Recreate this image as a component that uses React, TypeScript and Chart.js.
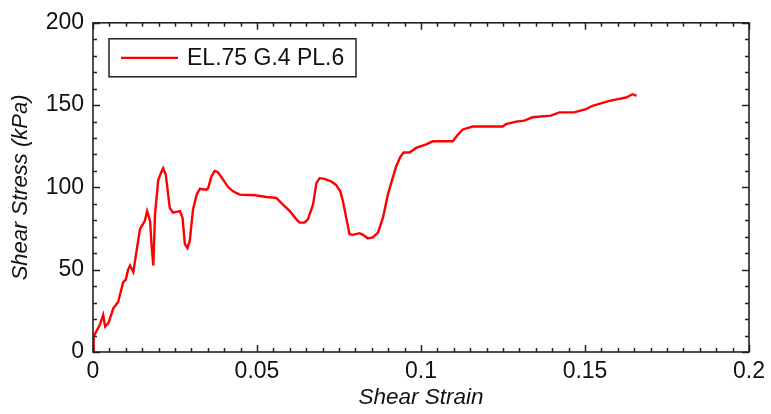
import React, { useEffect, useRef } from "react";
import { Chart, registerables } from "chart.js";

Chart.register(...registerables);

const seriesLabel = "EL.75 G.4 PL.6";
const xTitle = "Shear Strain";
const yTitle = "Shear Stress (kPa)";

const strain = [
  0, 0.0002, 0.0021, 0.0031, 0.0037, 0.0047, 0.0062, 0.0077, 0.0092, 0.01, 0.0107, 0.0113, 0.0123,
  0.0143, 0.0158, 0.0165, 0.0174, 0.0179, 0.0184, 0.0189, 0.0199, 0.0209, 0.0214, 0.0222, 0.0234,
  0.0244, 0.0265, 0.0273, 0.028, 0.0288, 0.0295, 0.0305, 0.0316, 0.0326, 0.0346, 0.0351, 0.0361,
  0.0371, 0.0381, 0.0397, 0.0412, 0.0427, 0.0447, 0.0493, 0.0529, 0.0559, 0.0579, 0.06, 0.062,
  0.063, 0.0645, 0.0655, 0.0671, 0.0681, 0.0691, 0.0706, 0.0727, 0.0742, 0.0754, 0.0762, 0.0772,
  0.0782, 0.0792, 0.0813, 0.0823, 0.0838, 0.0853, 0.0869, 0.0884, 0.0899, 0.0912, 0.0924, 0.0937,
  0.0947, 0.0965, 0.0985, 0.1016, 0.1036, 0.1097, 0.1109, 0.1127, 0.1158, 0.1249, 0.1259, 0.129,
  0.1315, 0.134, 0.1396, 0.1422, 0.1467, 0.1503, 0.1523, 0.1574, 0.1625, 0.1645, 0.1657,
];
const stress = [
  0, 9.5, 16.5, 22.5, 15.5, 17.5, 26.5, 30.5, 42.5, 44, 50, 52.5, 48.5,
  74.6, 79.6, 85.6, 79.6, 63.5, 52.5, 83.6, 104.6, 109.6, 111.6, 107.6, 87.6,
  84.6, 85.6, 81.6, 65.6, 63.2, 67.5, 86.6, 95.6, 99.2, 98.6, 99.5, 106.6,
  110, 109.2, 104.6, 100.2, 97.6, 95.6, 95.2, 94.2, 93.6, 89.6, 85.6, 80.6,
  78.6, 78.6, 80.6, 89.6, 102.6, 105.6, 105.2, 103.6, 101.2, 97.6, 91.6, 81.6,
  71.6, 71.2, 72.2, 71.2, 69, 69.6, 72.6, 81.6, 95.6, 104.6, 112.6, 118.6,
  121.2, 121.2, 124, 126.2, 128, 128, 131.2, 135.2, 137, 137, 138.4, 140,
  140.6, 142.6, 143.6, 145.6, 145.6, 147.6, 149.6, 152.6, 154.6, 156.6, 155.6,
];

const xMajorTicks = [0, 0.05, 0.1, 0.15, 0.2];
const yMajorTicks = [0, 50, 100, 150, 200];
const xMinorStep = 0.005;
const yMinorStep = 10;

const FONT = "'Liberation Sans', Arial, sans-serif";
const TEXT = "#111";

const frameTicks = {
  id: "frameTicks",
  afterDraw(chart: any) {
    const { ctx, chartArea: a, scales } = chart;
    const xs = scales.x, ys = scales.y;
    ctx.save();
    ctx.strokeStyle = "#222";
    ctx.lineWidth = 1.5;
    const major = 7, minor = 4;
    for (let v = 0; v <= 0.2 + 1e-9; v += xMinorStep) {
      const isMajor = xMajorTicks.some((m) => Math.abs(m - v) < 1e-6);
      const len = isMajor ? major : minor;
      const px = Math.round(xs.getPixelForValue(v)) + 0.5;
      ctx.beginPath();
      ctx.moveTo(px, a.bottom); ctx.lineTo(px, a.bottom - len);
      ctx.moveTo(px, a.top); ctx.lineTo(px, a.top + len);
      ctx.stroke();
    }
    for (let v = 0; v <= 200 + 1e-9; v += yMinorStep) {
      const isMajor = yMajorTicks.some((m) => Math.abs(m - v) < 1e-6);
      const len = isMajor ? major : minor;
      const py = Math.round(ys.getPixelForValue(v)) + 0.5;
      ctx.beginPath();
      ctx.moveTo(a.left, py); ctx.lineTo(a.left + len, py);
      ctx.moveTo(a.right, py); ctx.lineTo(a.right - len, py);
      ctx.stroke();
    }
    ctx.lineWidth = 1.6;
    ctx.strokeRect(a.left, a.top, a.right - a.left, a.bottom - a.top);

    // legend box
    const ds = chart.data.datasets[0];
    const bx = a.left + 16, by = a.top + 16, bw = 247, bh = 38;
    ctx.fillStyle = "#fff";
    ctx.fillRect(bx, by, bw, bh);
    ctx.lineWidth = 1.5;
    ctx.strokeStyle = "#222";
    ctx.strokeRect(bx, by, bw, bh);
    ctx.strokeStyle = ds.borderColor;
    ctx.lineWidth = 2.2;
    ctx.beginPath();
    ctx.moveTo(bx + 12, by + bh / 2);
    ctx.lineTo(bx + 69, by + bh / 2);
    ctx.stroke();
    ctx.fillStyle = TEXT;
    ctx.font = `23px ${FONT}`;
    ctx.textBaseline = "middle";
    ctx.textAlign = "left";
    ctx.fillText(ds.label, bx + 78, by + bh / 2 + 1);
    ctx.restore();
  },
};

export default function App() {
  const ref = useRef<HTMLCanvasElement>(null);
  useEffect(() => {
    const canvas = ref.current!;
    const chart = new Chart(canvas, {
      type: "line",
      data: {
        datasets: [
          {
            label: seriesLabel,
            data: strain.map((x, i) => ({ x, y: stress[i] })),
            borderColor: "#ff0000",
            borderWidth: 2.4,
            pointRadius: 0,
            tension: 0,
            fill: false,
          },
        ],
      },
      options: {
        animation: false,
        responsive: false,
        maintainAspectRatio: false,
        layout: { padding: { left: 0, right: 21, top: 19, bottom: 0 } },
        plugins: { legend: { display: false }, tooltip: { enabled: false } },
        scales: {
          x: {
            type: "linear",
            min: 0,
            max: 0.2,
            afterFit: (s: any) => { s.height = 62; },
            afterBuildTicks: (s: any) => { s.ticks = xMajorTicks.map((v) => ({ value: v })); },
            grid: { display: false, drawTicks: false },
            border: { display: false },
            ticks: {
              color: TEXT,
              font: { family: FONT, size: 23 },
              padding: 6,
              maxRotation: 0,
              callback: (v: any) => String(v),
            },
            title: {
              display: true,
              text: xTitle,
              color: TEXT,
              font: { family: FONT, size: 22.5, style: "italic" },
              padding: { top: 0, bottom: 3 },
            },
          },
          y: {
            type: "linear",
            min: 0,
            max: 200,
            afterFit: (s: any) => { s.width = 93; },
            afterBuildTicks: (s: any) => { s.ticks = yMajorTicks.map((v) => ({ value: v })); },
            grid: { display: false, drawTicks: false },
            border: { display: false },
            ticks: {
              color: TEXT,
              font: { family: FONT, size: 23 },
              padding: 9,
              callback: (v: any) => String(v),
            },
            title: {
              display: true,
              text: yTitle,
              color: TEXT,
              font: { family: FONT, size: 22, style: "italic" },
              padding: { top: 8, bottom: 0 },
            },
          },
        },
      },
      plugins: [frameTicks],
    });
    return () => chart.destroy();
  }, []);
  return (
    <div style={{ position: "fixed", left: 0, top: 0, width: 771, height: 414, background: "#fff" }}>
      <canvas ref={ref} width={771} height={414} style={{ width: 771, height: 414, display: "block" }} />
    </div>
  );
}
